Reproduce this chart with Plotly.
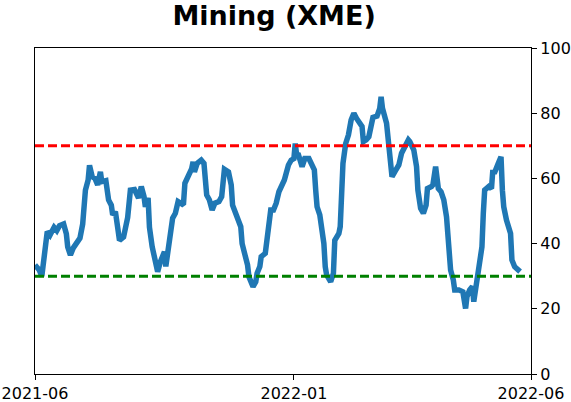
import plotly.graph_objects as go

dates = [
    "2021-06-25", "2021-06-28", "2021-06-30", "2021-07-04", "2021-07-06", "2021-07-09",
    "2021-07-11", "2021-07-13", "2021-07-16", "2021-07-18", "2021-07-19", "2021-07-21",
    "2021-07-23", "2021-07-25", "2021-07-28", "2021-07-30", "2021-08-01", "2021-08-03",
    "2021-08-04", "2021-08-06", "2021-08-08", "2021-08-10", "2021-08-12", "2021-08-13",
    "2021-08-16", "2021-08-18", "2021-08-20", "2021-08-21", "2021-08-23", "2021-08-25",
    "2021-08-26", "2021-08-29", "2021-09-01", "2021-09-03", "2021-09-06", "2021-09-09",
    "2021-09-11", "2021-09-13", "2021-09-14", "2021-09-16", "2021-09-17", "2021-09-19",
    "2021-09-21", "2021-09-23", "2021-09-25", "2021-09-28", "2021-09-29", "2021-10-01",
    "2021-10-03", "2021-10-04", "2021-10-06", "2021-10-08", "2021-10-11", "2021-10-12",
    "2021-10-13", "2021-10-16", "2021-10-18", "2021-10-19", "2021-10-20", "2021-10-22",
    "2021-10-25", "2021-10-27", "2021-10-28", "2021-10-29", "2021-10-31", "2021-11-02",
    "2021-11-04", "2021-11-07", "2021-11-09", "2021-11-10", "2021-11-11", "2021-11-14",
    "2021-11-16", "2021-11-17", "2021-11-19", "2021-11-21", "2021-11-23", "2021-11-24",
    "2021-11-26", "2021-11-28", "2021-11-29", "2021-12-02", "2021-12-04", "2021-12-05",
    "2021-12-07", "2021-12-08", "2021-12-11", "2021-12-13", "2021-12-15", "2021-12-17",
    "2021-12-19", "2021-12-21", "2021-12-23", "2021-12-25", "2021-12-28", "2021-12-30",
    "2022-01-01", "2022-01-02", "2022-01-03", "2022-01-04", "2022-01-07", "2022-01-09",
    "2022-01-12", "2022-01-14", "2022-01-16", "2022-01-17", "2022-01-18", "2022-01-20",
    "2022-01-21", "2022-01-23", "2022-01-24", "2022-01-25", "2022-01-28", "2022-01-30",
    "2022-01-31", "2022-02-03", "2022-02-04", "2022-02-05", "2022-02-06", "2022-02-08",
    "2022-02-10", "2022-02-12", "2022-02-14", "2022-02-16", "2022-02-18", "2022-02-20",
    "2022-02-21", "2022-02-23", "2022-02-25", "2022-02-27", "2022-02-28", "2022-03-03",
    "2022-03-05", "2022-03-06", "2022-03-07", "2022-03-10", "2022-03-11", "2022-03-13",
    "2022-03-14", "2022-03-16", "2022-03-19", "2022-03-21", "2022-03-24", "2022-03-26",
    "2022-03-27", "2022-03-30", "2022-04-01", "2022-04-02", "2022-04-04", "2022-04-06",
    "2022-04-08", "2022-04-09", "2022-04-12", "2022-04-13", "2022-04-15", "2022-04-17",
    "2022-04-19", "2022-04-21", "2022-04-23", "2022-04-24", "2022-04-25", "2022-04-26",
    "2022-04-28", "2022-04-29", "2022-05-02", "2022-05-05", "2022-05-07", "2022-05-08",
    "2022-05-10", "2022-05-12", "2022-05-13", "2022-05-15", "2022-05-17", "2022-05-19",
    "2022-05-20", "2022-05-21", "2022-05-24", "2022-05-26", "2022-05-27", "2022-05-28",
    "2022-05-31", "2022-06-02", "2022-06-03", "2022-06-04", "2022-06-06", "2022-06-09",
    "2022-06-10", "2022-06-12", "2022-06-16",
]

values = [
    33.4, 32.0, 30.0, 43.7, 42.6, 45.0,
    44.0, 45.5, 46.0, 43.0, 39.0, 36.5,
    38.6, 39.6, 41.7, 46.0, 56.4, 59.5,
    64.0, 60.5, 60.0, 58.0, 62.0, 59.0,
    59.3, 53.4, 51.8, 48.8, 49.8, 44.0,
    41.0, 42.0, 48.0, 56.4, 56.6, 54.0,
    57.5, 54.4, 51.3, 54.0, 45.0, 39.0,
    35.6, 31.4, 34.4, 37.5, 33.0, 39.6,
    43.0, 47.8, 49.3, 52.9, 52.1, 52.4,
    58.5, 61.5, 63.0, 65.1, 62.0, 64.6,
    65.6, 64.6, 59.5, 54.9, 53.4, 50.3,
    52.4, 52.9, 54.4, 59.0, 62.8, 62.0,
    58.0, 51.8, 49.8, 47.2, 45.2, 40.0,
    37.0, 33.4, 29.8, 26.8, 28.3, 30.9,
    33.0, 36.0, 37.0, 44.2, 50.3, 50.3,
    52.4, 55.9, 57.5, 59.5, 64.1, 65.6,
    66.1, 70.7, 67.2, 67.7, 63.6, 66.1,
    66.1, 64.6, 62.6, 56.4, 51.3, 48.8,
    46.2, 40.0, 32.9, 30.4, 28.3, 30.9,
    41.0, 43.1, 45.2, 54.4, 64.6, 70.7,
    73.3, 77.9, 80.0, 78.4, 77.4, 75.9,
    71.3, 71.8, 72.8, 75.9, 78.7, 79.1,
    81.5, 85.0, 81.5, 76.9, 72.3, 66.8,
    60.5, 62.0, 64.1, 67.7, 70.2, 71.8,
    71.3, 68.7, 63.6, 56.4, 50.8, 49.3,
    51.8, 56.9, 57.5, 58.0, 63.6, 56.9,
    55.9, 53.4, 48.2, 40.0, 34.0, 31.9,
    28.8, 25.8, 25.8, 25.2, 20.1, 23.7,
    25.8, 26.8, 22.2, 28.8, 34.0, 39.0,
    49.3, 56.4, 57.5, 56.9, 62.6, 61.5,
    64.6, 66.6, 56.4, 51.3, 47.2, 43.1,
    35.0, 32.9, 31.4,
]

title_text = "Mining (XME)"
upper_level = 70
lower_level = 30
x_start = "2021-06-25"
x_end = "2022-06-24"
x_tick_vals = ["2021-06-25", "2022-01-01", "2022-06-24"]
x_tick_text = ["2021-06", "2022-01", "2022-06"]
y_tick_vals = [0, 20, 40, 60, 80, 100]

FONT = "DejaVu Sans"

fig = go.Figure()
fig.add_trace(go.Scatter(
    x=dates, y=values, mode="lines",
    line=dict(color="#1f77b4", width=5.5),
    showlegend=False, hoverinfo="skip",
))

fig.add_hline(y=upper_level, line=dict(color="#ff0000", width=3, dash="9px,4px"))
fig.add_hline(y=lower_level, line=dict(color="#008000", width=3, dash="9px,4px"))

fig.update_layout(
    width=571, height=402,
    margin=dict(l=35, r=40, t=48, b=28, autoexpand=False),
    paper_bgcolor="white", plot_bgcolor="white",
    font=dict(family=FONT, size=16, color="black"),
    title=dict(
        text="<b>" + title_text + "</b>",
        x=0.482, xref="paper", xanchor="center",
        y=0.985, yref="container", yanchor="top",
        font=dict(family=FONT, size=27, color="black"),
    ),
    xaxis=dict(
        type="date", range=[x_start, x_end], automargin=False,
        tickvals=x_tick_vals, ticktext=x_tick_text,
        showgrid=False, zeroline=False,
        showline=True, linecolor="black", linewidth=1.3, mirror=True,
        ticks="outside", ticklen=5, tickcolor="black", tickwidth=1.2,
        tickfont=dict(family=FONT, size=16),
    ),
    yaxis=dict(
        range=[0, 100], side="right", automargin=False,
        tickvals=y_tick_vals,
        showgrid=False, zeroline=False,
        showline=True, linecolor="black", linewidth=1.3, mirror=True,
        ticks="outside", ticklen=5, tickcolor="black", tickwidth=1.2,
        tickfont=dict(family=FONT, size=16),
    ),
)

fig.write_html("out.html")
